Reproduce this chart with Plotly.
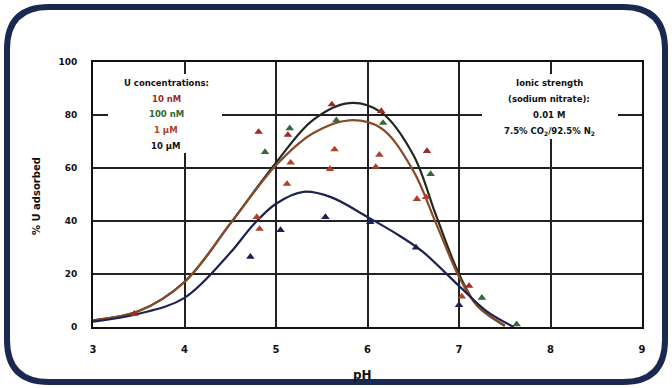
import plotly.graph_objects as go

# ---- data ----
ph_10nM = [3.45, 4.81, 5.13, 5.61, 6.15, 6.65, 7.11]
u_10nM = [5, 73.6, 72.5, 84, 81.5, 66.4, 15.5]
ph_100nM = [4.88, 5.15, 5.66, 6.17, 6.69, 7.25, 7.63]
u_100nM = [66, 75, 78, 77, 57.7, 11, 1]
ph_1uM = [4.79, 4.82, 5.12, 5.16, 5.59, 5.64, 6.09, 6.13, 6.54, 6.64, 7.03]
u_1uM = [41.5, 37, 54, 62, 59.6, 67, 60.4, 65, 48.3, 49, 11.5]
ph_10uM = [4.72, 5.05, 5.54, 6.03, 6.53, 7.0]
u_10uM = [26.5, 36.6, 41.5, 39.6, 30, 8.3]

fit_ph_top = [3.0, 3.5, 4.0, 4.5, 5.0, 5.4, 5.8, 6.15, 6.5, 6.75, 7.0, 7.2, 7.5]
fit_u_top = [2.5, 6, 17, 39, 62, 78, 84.5, 81, 65, 42, 20, 8, 0.5]
fit_ph_mid = [3.0, 3.5, 4.0, 4.5, 5.0, 5.4, 5.8, 6.15, 6.5, 6.75, 7.0, 7.2, 7.5]
fit_u_mid = [2.5, 6, 17, 39, 61, 73, 78, 75, 59, 39, 19, 8, 0.5]
fit_ph_low = [3.0, 3.5, 4.0, 4.5, 4.75, 5.0, 5.3, 5.6, 6.0, 6.3, 6.6, 7.0, 7.3, 7.6]
fit_u_low = [2, 5, 11, 28, 38.5, 46.5, 51, 49, 41.5, 35.5, 28.5, 15.5, 6, 0]

x_ticks = [3, 4, 5, 6, 7, 8, 9]
y_ticks = [0, 20, 40, 60, 80, 100]

C_10nM = "#9e2a2a"
C_100nM = "#2e6b36"
C_1uM = "#b0402a"
C_10uM = "#1a2050"

fig = go.Figure()
fig.add_trace(go.Scatter(x=fit_ph_top, y=fit_u_top, mode="lines",
                         line=dict(color="#1e2a1e", width=2.2, shape="spline", smoothing=1.0)))
fig.add_trace(go.Scatter(x=fit_ph_mid, y=fit_u_mid, mode="lines",
                         line=dict(color="#8a4a28", width=2.2, shape="spline", smoothing=1.0)))
fig.add_trace(go.Scatter(x=fit_ph_low, y=fit_u_low, mode="lines",
                         line=dict(color="#1c2350", width=2.2, shape="spline", smoothing=1.0)))
for xs, ys, c in [(ph_10nM, u_10nM, C_10nM), (ph_100nM, u_100nM, C_100nM),
                  (ph_1uM, u_1uM, C_1uM), (ph_10uM, u_10uM, C_10uM)]:
    fig.add_trace(go.Scatter(x=xs, y=ys, mode="markers",
                             marker=dict(symbol="triangle-up", size=7.5, color=c)))

L, R, T, B = 93, 30, 62, 61
W, H = 672, 388
pw, ph_ = W - L - R, H - T - B


def px(X):
    return (X - L) / pw


def py(Y):
    return (H - B - Y) / ph_


# rounded frame
x0, x1, y0, y1, r = 7, 665, 7, 382, 42
path = (f"M {px(x0 + r)} {py(y0)} L {px(x1 - r)} {py(y0)} Q {px(x1)} {py(y0)} {px(x1)} {py(y0 + r)} "
        f"L {px(x1)} {py(y1 - r)} Q {px(x1)} {py(y1)} {px(x1 - r)} {py(y1)} "
        f"L {px(x0 + r)} {py(y1)} Q {px(x0)} {py(y1)} {px(x0)} {py(y1 - r)} "
        f"L {px(x0)} {py(y0 + r)} Q {px(x0)} {py(y0)} {px(x0 + r)} {py(y0)} Z")
shapes = [
    dict(type="rect", xref="paper", yref="paper", x0=px(108), x1=px(222), y0=py(74), y1=py(153),
         fillcolor="white", line=dict(width=0), layer="above"),
    dict(type="rect", xref="paper", yref="paper", x0=px(482), x1=px(618), y0=py(74), y1=py(139),
         fillcolor="white", line=dict(width=0), layer="above"),
    dict(type="path", xref="paper", yref="paper", path=path,
         line=dict(color="#1b2850", width=6), layer="above"),
]

FONT = "DejaVu Sans"
ann = []
left_lines = [("<b>U concentrations:</b>", "#111111", 83), ("<b>10 nM</b>", C_10nM, 99),
              ("<b>100 nM</b>", C_100nM, 114), ("<b>1 µM</b>", C_1uM, 130), ("<b>10 µM</b>", "#111111", 146)]
for t, c, yy in left_lines:
    ann.append(dict(text=t, x=px(166), y=py(yy), xref="paper", yref="paper", showarrow=False,
                    font=dict(family=FONT, size=8.5, color=c), xanchor="center", yanchor="middle"))
right_lines = [("<b>Ionic strength</b>", 83), ("<b>(sodium nitrate):</b>", 99), ("<b>0.01 M</b>", 115),
               ("<b>7.5% CO<sub>2</sub>/92.5% N<sub>2</sub></b>", 131)]
for t, yy in right_lines:
    ann.append(dict(text=t, x=px(549), y=py(yy), xref="paper", yref="paper", showarrow=False,
                    font=dict(family=FONT, size=8.5, color="#111111"), xanchor="center", yanchor="middle"))
ann.append(dict(text="<b>% U adsorbed</b>", x=px(36), y=py(196), xref="paper", yref="paper",
                showarrow=False, textangle=-90, font=dict(family=FONT, size=10, color="#111111"),
                xanchor="center", yanchor="middle"))
ann.append(dict(text="<b>pH</b>", x=px(362), y=py(375), xref="paper", yref="paper",
                showarrow=False, font=dict(family=FONT, size=12, color="#111111"),
                xanchor="center", yanchor="middle"))

fig.update_layout(
    width=W, height=H, margin=dict(l=L, r=R, t=T, b=B),
    paper_bgcolor="white", plot_bgcolor="white", showlegend=False,
    shapes=shapes, annotations=ann,
    xaxis=dict(range=[3, 9], tickvals=x_ticks, ticktext=[f"<b>{v}</b>" for v in x_ticks],
               showgrid=True, gridcolor="#222222", gridwidth=1.6, zeroline=False,
               showline=True, linecolor="#111111", linewidth=2, mirror=True, ticks="",
               ticklabelstandoff=12, tickfont=dict(family=FONT, size=10, color="#111111")),
    yaxis=dict(range=[0, 100], tickvals=y_ticks, ticktext=[f"<b>{v}</b>" for v in y_ticks],
               showgrid=True, gridcolor="#222222", gridwidth=1.6, zeroline=False,
               showline=True, linecolor="#111111", linewidth=2, mirror=True, ticks="",
               ticklabelstandoff=12, tickfont=dict(family=FONT, size=9, color="#111111")),
)

fig.write_html("out.html")
